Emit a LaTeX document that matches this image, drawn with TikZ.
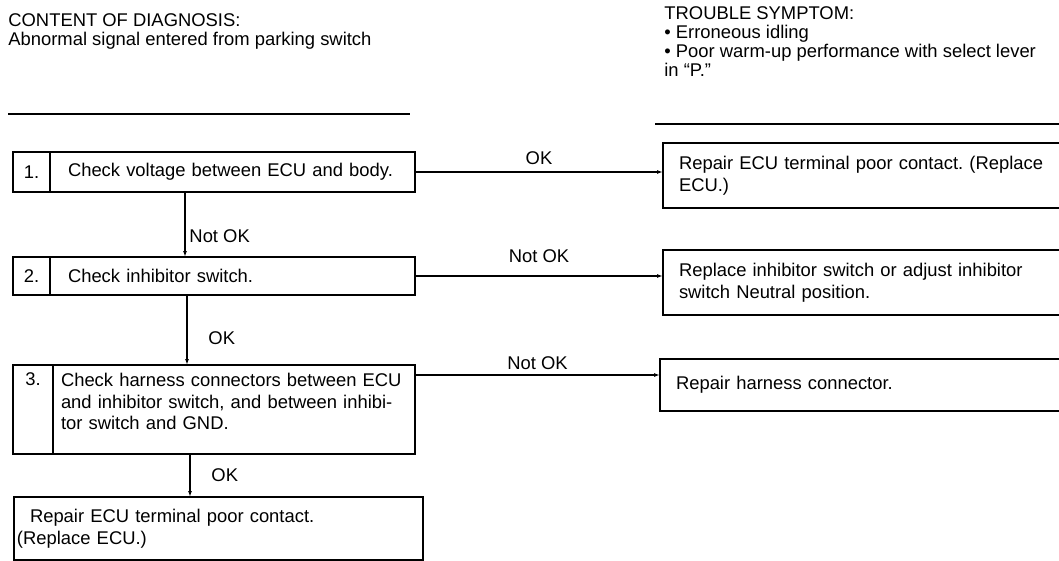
\documentclass[tikz,border=0pt]{standalone}
\usepackage{fontspec}
\setmainfont{Liberation Sans}
\usetikzlibrary{positioning, arrows.meta}
\frenchspacing

\begin{document}
\begin{tikzpicture}[
    x=0.5pt, y=-0.5pt,
    every node/.style={font=\fontsize{9.2}{10.8}\selectfont},
    numbox/.style={
        rectangle, draw=black, line width=1pt, anchor=north east,
        minimum width=18.5pt, inner sep=0pt, outer sep=0pt
    },
    stepbox/.style={
        rectangle, draw=black, line width=1pt, anchor=north west,
        align=left, inner xsep=9pt, text width=164.5pt, outer sep=0pt
    },
    fixbox/.style={
        rectangle, draw=black, line width=1pt, anchor=north west,
        align=left, inner xsep=8pt, text width=187.5pt, outer sep=0pt
    },
    flow/.style={-{Latex[length=3pt,width=2pt]}, line width=0.8pt},
    rule/.style={line width=1.1pt}
]
\clip (0,0) rectangle (1059,561);

% Headings
\node[anchor=north west, align=left, inner sep=0pt,
      font=\fontsize{9.2}{9.4}\selectfont] (diag) at (8,13) {
    CONTENT OF DIAGNOSIS:\\
    Abnormal signal entered from parking switch
};
\node[anchor=north west, align=left, inner sep=0pt,
      font=\fontsize{9.2}{9.6}\selectfont] (symp) at (664,6) {
    TROUBLE SYMPTOM:\\
    \textbullet\ Erroneous idling\\
    \textbullet\ Poor warm-up performance with select lever\\
    in ``P.''
};
\draw[rule] (8,114) -- (410,114);
\draw[rule] (655,124) -- (1059,124);

% Checks
\node[stepbox, minimum height=20pt] (s1) at (50,152)
    {Check voltage between ECU and body.};
\node[numbox, minimum height=20pt] (n1) at (s1.north west) {1.};

\node[stepbox, minimum height=19pt] (s2) at (50,257)
    {Check inhibitor switch.};
\node[numbox, minimum height=19pt] (n2) at (s2.north west) {2.};

\node[stepbox, minimum height=44.5pt, inner xsep=4pt, inner ysep=2pt,
      text width=173pt] (s3) at (53,365) {
    Check harness connectors between ECU\\
    and inhibitor switch, and between inhibi-\\
    tor switch and GND.\\[-3pt]
    \mbox{}
};
\node[numbox, minimum width=20pt, text height=7pt, text depth=31.5pt,
      inner ysep=3pt] (n3) at (s3.north west) {3.};

\node[stepbox, minimum height=31.5pt, inner xsep=1.5pt, text width=201.5pt] (last) at (14,497) {
    \hspace{6.5pt}Repair ECU terminal poor contact.\\
    (Replace ECU.)
};

% Repairs
\node[fixbox, minimum height=32.5pt] (r1) at (663,143) {
    Repair ECU terminal poor contact. (Replace\\
    ECU.)
};
\node[fixbox, minimum height=32.5pt] (r2) at (663,250) {
    Replace inhibitor switch or adjust inhibitor\\
    switch Neutral position.
};
\node[fixbox, minimum height=26pt] (r3) at (660,359) {
    Repair harness connector.
};

% Connectors
\draw[flow] (s1.east) -- node[above=0pt] {OK} (s1.east -| r1.west);
\draw[flow] (s2.east) -- node[above=3pt] {Not OK} (s2.east -| r2.west);
\draw[flow] ([yshift=-5pt]s3.north east) -- node[above=-1pt] {Not OK}
    ([yshift=-5pt]s3.north east -| r3.west);

\draw[flow] ([xshift=67.5pt]s1.south west) -- node[pos=0.68, right=-1.5pt] {Not OK}
    ([xshift=67.5pt]s2.north west);
\draw[flow] ([xshift=68.5pt]s2.south west) -- node[pos=0.62, right=7pt] {OK}
    ([xshift=67pt]s3.north west);
\draw[flow] ([xshift=68.5pt]s3.south west) -- node[pos=0.5, right=7pt] {OK}
    ([xshift=88pt]last.north west);

\end{tikzpicture}
\end{document}
